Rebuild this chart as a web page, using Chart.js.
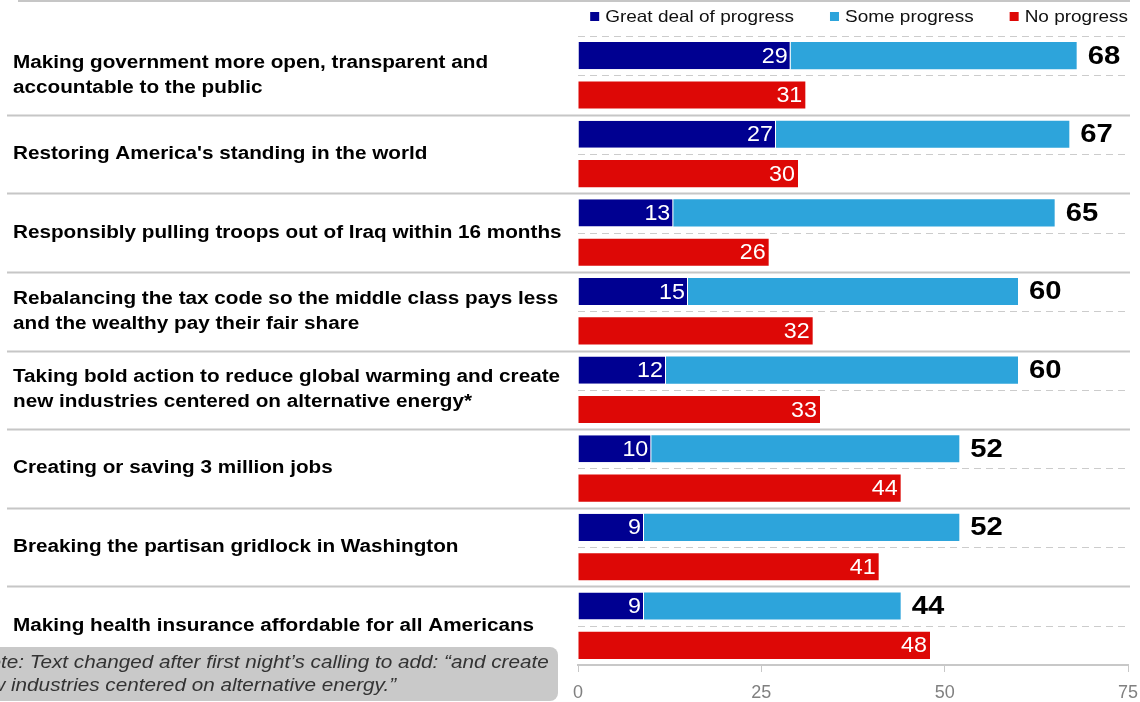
<!DOCTYPE html>
<html><head><meta charset="utf-8">
<script src="https://cdn.jsdelivr.net/npm/chart.js@4.4.1/dist/chart.umd.min.js"></script>
<style>html,body{margin:0;padding:0;background:#fff;}canvas{display:block;}</style>
</head><body>
<canvas id="c" width="1140" height="702"></canvas>
<script>
// Survey items (each item takes two rows: progress stack, then "no progress")
const categories = [
  ["Making government more open, transparent and", "accountable to the public"],
  ["Restoring America's standing in the world"],
  ["Responsibly pulling troops out of Iraq within 16 months"],
  ["Rebalancing the tax code so the middle class pays less", "and the wealthy pay their fair share"],
  ["Taking bold action to reduce global warming and create", "new industries centered on alternative energy*"],
  ["Creating or saving 3 million jobs"],
  ["Breaking the partisan gridlock in Washington"],
  ["Making health insurance affordable for all Americans"]
];
const greatDeal    = [29, 27, 13, 15, 12, 10, 9, 9];
const someProgress = [39, 40, 52, 45, 48, 42, 43, 35];
const noProgress   = [31, 30, 26, 32, 33, 44, 41, 48];
const xTicks = [0, 25, 50, 75];
const seriesNames = ["Great deal of progress", "Some progress", "No progress"];
const seriesColors = ["#000091", "#2DA4DB", "#DD0806"];
const noteLines = [
  "Note: Text changed after first night\u2019s calling to add: \u201cand create",
  "new industries centered on alternative energy.\u201d"
];

const FONT = "'Liberation Sans', Arial, Helvetica, sans-serif";
const TEXT_SX = 1.15; // text is set slightly wide

// Expand to two rows per item
const rowKeys = [];
const rowGreat = [], rowSome = [], rowNo = [];
categories.forEach((c, i) => {
  rowKeys.push("a" + i); rowKeys.push("b" + i);
  rowGreat.push(greatDeal[i]); rowGreat.push(null);
  rowSome.push(someProgress[i]); rowSome.push(null);
  rowNo.push(null); rowNo.push(noProgress[i]);
});

function wideText(ctx, text, x, y, font, color, align, sx) {
  ctx.save();
  ctx.font = font;
  ctx.fillStyle = color;
  ctx.textAlign = align || "left";
  ctx.textBaseline = "middle";
  ctx.translate(x, y);
  ctx.scale(sx || TEXT_SX, 1);
  ctx.fillText(text, 0, 0);
  ctx.restore();
}
function wideWidth(ctx, text, font, sx) {
  ctx.save(); ctx.font = font;
  const w = ctx.measureText(text).width * (sx || TEXT_SX);
  ctx.restore();
  return w;
}

const overlay = {
  id: "overlay",
  beforeDatasetsDraw(chart) {
    const ctx = chart.ctx, y = chart.scales.y, area = chart.chartArea;
    const rowH = y.getPixelForValue(1) - y.getPixelForValue(0);
    const top = y.getPixelForValue(0) - rowH / 2;
    ctx.save();
    for (let r = 0; r < rowKeys.length; r++) {
      const yy = Math.round(top + r * rowH) + 0.5;
      ctx.beginPath();
      if (r % 2 === 0 && r > 0) {
        ctx.setLineDash([]);
        ctx.strokeStyle = "#c6c6c6";
        ctx.lineWidth = 2;
        ctx.moveTo(7, yy); ctx.lineTo(1130, yy);
      } else {
        ctx.setLineDash([7, 5]);
        ctx.strokeStyle = "#cccccc";
        ctx.lineWidth = 1;
        ctx.moveTo(area.left, yy); ctx.lineTo(area.right, yy);
      }
      ctx.stroke();
    }
    // rule along the top
    ctx.setLineDash([]);
    ctx.strokeStyle = "#c6c6c6";
    ctx.lineWidth = 2;
    ctx.beginPath(); ctx.moveTo(18, 1); ctx.lineTo(1130, 1); ctx.stroke();
    ctx.restore();
  },
  afterDatasetsDraw(chart) {
    const ctx = chart.ctx, y = chart.scales.y;
    // values inside bars
    [0, 2].forEach(di => {
      const meta = chart.getDatasetMeta(di);
      const data = chart.data.datasets[di].data;
      meta.data.forEach((el, idx) => {
        if (data[idx] == null) return;
        wideText(ctx, String(data[idx]), el.x - 3, el.y + 1, "22px " + FONT, "#ffffff", "right", 1.06);
      });
    });
    // totals beside the progress stack
    const metaSome = chart.getDatasetMeta(1);
    categories.forEach((c, i) => {
      const el = metaSome.data[2 * i];
      wideText(ctx, String(greatDeal[i] + someProgress[i]), el.x + 11, el.y + 1, "bold 25px " + FONT, "#000000", "left", 1.17);
    });
    // item labels
    categories.forEach((lines, i) => {
      const cy = (y.getPixelForValue(2 * i) + y.getPixelForValue(2 * i + 1)) / 2;
      const lh = 25;
      lines.forEach((t, k) => {
        wideText(ctx, t, 13, cy + (k - (lines.length - 1) / 2) * lh + 0, "bold 18px " + FONT, "#000000", "left");
      });
    });
    // legend, right-aligned
    const lf = "16.5px " + FONT;
    let xr = 1128;
    for (let k = seriesNames.length - 1; k >= 0; k--) {
      const w = wideWidth(ctx, seriesNames[k], lf);
      wideText(ctx, seriesNames[k], xr - w, 17, lf, "#111111", "left");
      ctx.fillStyle = seriesColors[k];
      ctx.fillRect(xr - w - 15, 12, 9, 9);
      xr = xr - w - 15 - 36;
    }
    // footnote box
    ctx.save();
    ctx.fillStyle = "#c9c9c9";
    ctx.beginPath();
    ctx.roundRect(-20, 647, 578, 54, 8);
    ctx.fill();
    ctx.restore();
    const nf = "italic 18px " + FONT;
    const x1 = 1 - wideWidth(ctx, "No", nf);
    wideText(ctx, noteLines[0], x1, 663, nf, "#333333", "left");
    const x2 = 11 - wideWidth(ctx, "new ", nf);
    wideText(ctx, noteLines[1], x2, 686, nf, "#333333", "left");
  }
};

new Chart(document.getElementById("c"), {
  type: "bar",
  data: {
    labels: rowKeys,
    datasets: [
      { label: seriesNames[0], data: rowGreat, backgroundColor: seriesColors[0],
        borderColor: "#ffffff", borderWidth: { right: 1 }, borderSkipped: false },
      { label: seriesNames[1], data: rowSome, backgroundColor: seriesColors[1] },
      { label: seriesNames[2], data: rowNo, backgroundColor: seriesColors[2] }
    ]
  },
  options: {
    indexAxis: "y",
    responsive: false,
    animation: false,
    devicePixelRatio: 1,
    layout: { padding: { left: 578, right: 12, top: 36, bottom: 0 } },
    datasets: { bar: { categoryPercentage: 1, barPercentage: 0.69 } },
    plugins: { legend: { display: false }, tooltip: { enabled: false } },
    scales: {
      y: { stacked: true, display: false },
      x: {
        stacked: true, min: 0, max: 75,
        afterBuildTicks: s => { s.ticks = xTicks.map(v => ({ value: v })); },
        afterFit: s => { s.height = 37; s.paddingLeft = 0; s.paddingRight = 0; },
        grid: { drawOnChartArea: false, drawTicks: true, tickLength: 7, color: "#c8c8c8", lineWidth: 1 },
        border: { display: true, color: "#c8c8c8", width: 2 },
        ticks: { color: "#808080", font: { family: FONT, size: 18 }, padding: 10 }
      }
    }
  },
  plugins: [overlay]
});
</script>
</body></html>
